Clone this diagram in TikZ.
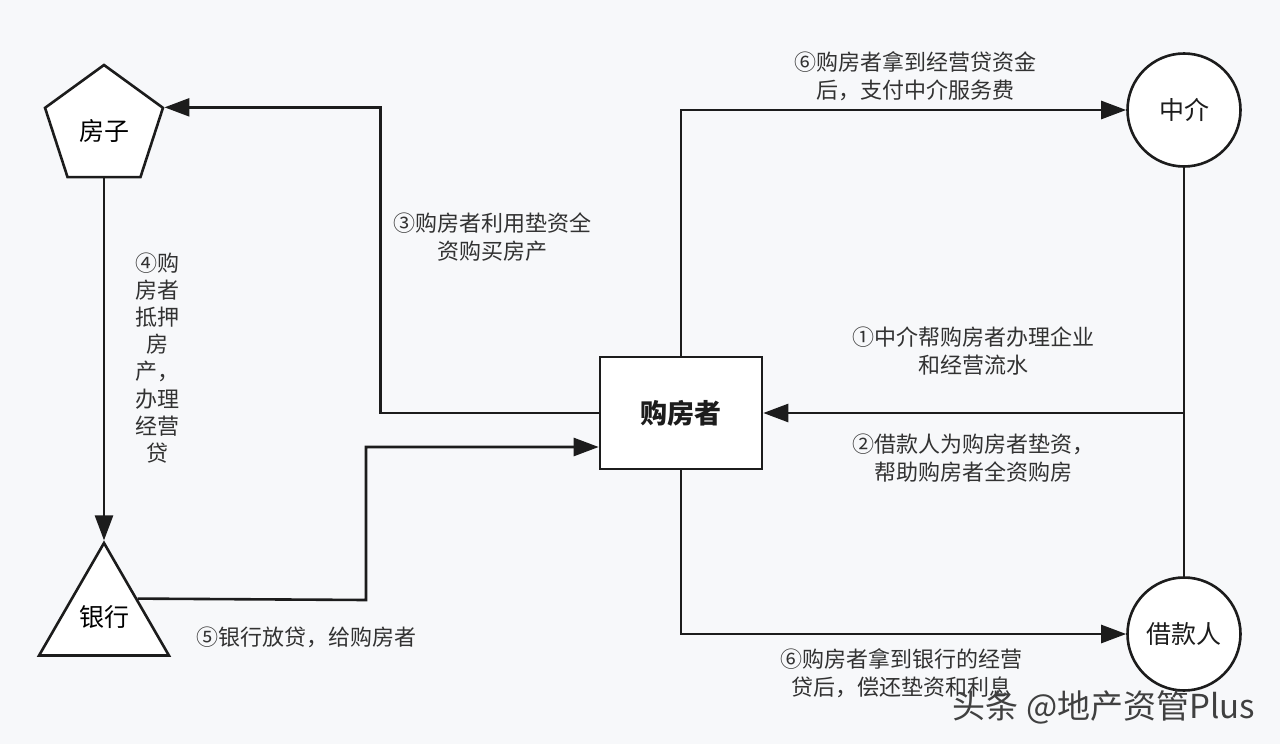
\documentclass[tikz,border=0pt]{standalone}
\usepackage{fontspec}
\setmainfont{Noto Sans CJK SC}
\usetikzlibrary{arrows.meta,shapes.geometric,calc}
\definecolor{bgc}{RGB}{247,248,250}
\definecolor{ink}{RGB}{28,28,28}
\definecolor{lbl}{RGB}{50,50,50}
\begin{document}
\begin{tikzpicture}[x=1pt,y=-1pt,
  conn/.style={draw=ink,line width=2.6pt},
  arr/.style={conn,-{Triangle[length=25pt,width=18pt]}},
  shp/.style={draw=ink,line width=2.6pt,fill=white,inner sep=0pt,text=ink},
  nodelbl/.style={font=\fontsize{25}{30}\selectfont},
  lab/.style={text=lbl,font=\fontsize{22}{28}\selectfont,align=center,inner sep=0pt}]
\path[use as bounding box,fill=bgc] (0,0) rectangle (1280,744);
% nodes
\node[shp,nodelbl,regular polygon,regular polygon sides=5,minimum size=124pt] (house) at (104,127) {};
\node[nodelbl] (housetxt) at (104,131) {房子};
\node[shp,nodelbl,regular polygon,regular polygon sides=3,minimum size=150pt] (bank) at (104,618) {};
\node[nodelbl] (banktxt) at (104,617) {银行};
\node[shp,minimum width=162pt,minimum height=112pt,font=\bfseries\fontsize{27}{32}\selectfont] (buyer) at (681,413) {购房者};
\node[shp,nodelbl,circle,minimum size=113pt] (agent) at (1184,110) {中介};
\node[shp,nodelbl,ellipse,minimum width=113pt,minimum height=113pt] (lender) at (1184,634) {借款人};
% connectors
\draw[arr] (buyer.west) -- ++(-218,0) |- (house.corner 5);
\draw[arr] (house.south) -- (bank.corner 1);
\coordinate (bankR) at ($(bank.corner 1)!0.5!(bank.corner 3)$);
\draw[arr] (bankR) -- (366,600) |- ($(buyer.west)+(0,34)$);
\draw[arr] (buyer.north) |- (agent.west);
\draw[conn] (agent.south) -- (lender.north);
\draw[arr] (agent.south |- buyer.east) -- (buyer.east);
\draw[arr] (buyer.south) |- (lender.west);
% labels
\node[lab] (l6a) at (915,76) {⑥购房者拿到经营贷资金\\后，支付中介服务费};
\node[lab] (l3) at (492,237) {③购房者利用垫资全\\资购买房产};
\node[lab,font=\fontsize{22}{27.1}\selectfont] (l4) at (157,358) {④购\\房者\\抵押\\房\\产，\\办理\\经营\\贷};
\node[lab,anchor=west] (l5) at (196,637) {⑤银行放贷，给购房者};
\node[lab] (l1) at (973,351) {①中介帮购房者办理企业\\和经营流水};
\node[lab] (l2) at (973,458) {②借款人为购房者垫资，\\帮助购房者全资购房};
\node[lab] (l6b) at (901,673) {⑥购房者拿到银行的经营\\贷后，偿还垫资和利息};
\node[text=black!75,font=\fontsize{33}{36}\selectfont,inner sep=0pt] (wm) at (1104,707) {头条 @地产资管Plus};
\end{tikzpicture}
\end{document}
